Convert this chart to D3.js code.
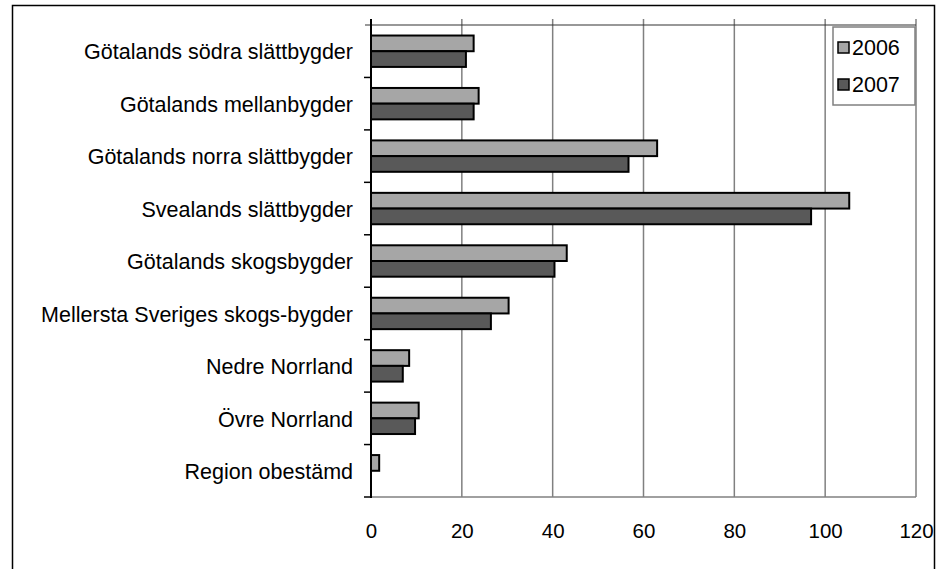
<!DOCTYPE html>
<html><head><meta charset="utf-8">
<script src="https://cdn.jsdelivr.net/npm/d3@7"></script>
<style>body{margin:0;background:#fff}svg{display:block}text{font-family:"Liberation Sans",Arial,sans-serif}</style>
</head><body>
<script>
const categories = ["Götalands södra slättbygder","Götalands mellanbygder","Götalands norra slättbygder","Svealands slättbygder","Götalands skogsbygder","Mellersta Sveriges skogs-bygder","Nedre Norrland","Övre Norrland","Region obestämd"];
const seriesNames = ["2006","2007"];
const values2006 = [22.6, 23.7, 63.0, 105.3, 43.1, 30.3, 8.4, 10.5, 1.8];
const values2007 = [20.9, 22.6, 56.7, 96.9, 40.4, 26.4, 7.0, 9.7, 0];
const xTicks = [0,20,40,60,80,100,120];
const colors = ["#a6a6a6","#595959"];

const W=940,H=569;
const svg=d3.select("body").append("svg").attr("width",W).attr("height",H);
const m={left:371,right:916,top:25,bottom:497};
const x=d3.scaleLinear().domain([0,120]).range([m.left,m.right]);
const y=d3.scaleBand().domain(categories).range([m.top,m.bottom]).paddingInner(0).paddingOuter(0);
const inner=d3.scaleBand().domain(seriesNames).range([0,y.bandwidth()]).paddingInner(0).paddingOuter(0.67);
const fs=21.5;

// outer border
svg.append("rect").attr("x",12.5).attr("y",5.5).attr("width",922).attr("height",600).attr("fill","none").attr("stroke","#000").attr("stroke-width",1.5);

// gridlines
svg.append("g").selectAll("line").data(xTicks.slice(1)).join("line")
  .attr("x1",d=>x(d)).attr("x2",d=>x(d)).attr("y1",m.top-6).attr("y2",m.bottom)
  .attr("stroke","#808080").attr("stroke-width",1.5);
// bottom border
svg.append("line").attr("x1",m.left).attr("x2",m.right).attr("y1",m.bottom).attr("y2",m.bottom).attr("stroke","#808080").attr("stroke-width",1.5);
// top axis line
svg.append("line").attr("x1",m.left-6).attr("x2",m.right).attr("y1",m.top).attr("y2",m.top).attr("stroke","#333").attr("stroke-width",1.2);

// bars
const data=categories.map((c,i)=>({c,vals:[values2006[i],values2007[i]]}));
const g=svg.append("g");
data.forEach(d=>{
  d.vals.forEach((v,j)=>{
    if(!v) return;
    g.append("rect").attr("x",x(0)).attr("y",y(d.c)+inner(seriesNames[j]))
     .attr("width",x(v)-x(0)).attr("height",inner.bandwidth())
     .attr("fill",colors[j]).attr("stroke","#000").attr("stroke-width",2);
  });
});

// y axis
const yAxis=d3.axisLeft(y).tickSize(0).tickPadding(18);
const ya=svg.append("g").attr("transform",`translate(${m.left},0)`).call(yAxis);
ya.select(".domain").remove();
ya.selectAll("text").attr("font-size",fs).attr("dy","0.38em").attr("fill","#000").attr("font-family","Liberation Sans, Arial, sans-serif");
// y axis line + category ticks
svg.append("line").attr("x1",m.left).attr("x2",m.left).attr("y1",m.top-6).attr("y2",m.bottom+1).attr("stroke","#000").attr("stroke-width",2);
const bounds=d3.range(categories.length+1).map(i=>m.top+i*y.step());
svg.append("g").selectAll("line").data(bounds.slice(1)).join("line")
  .attr("x1",m.left-7).attr("x2",m.left).attr("y1",d=>d).attr("y2",d=>d).attr("stroke","#000").attr("stroke-width",1.5);

// x axis labels
const xAxis=d3.axisBottom(x).tickValues(xTicks).tickSize(0).tickPadding(26);
const xa=svg.append("g").attr("transform",`translate(0,${m.bottom})`).call(xAxis);
xa.select(".domain").remove();
xa.selectAll("text").attr("font-size",20.5).attr("fill","#000").attr("font-family","Liberation Sans, Arial, sans-serif");

// legend
const lg=svg.append("g");
lg.append("rect").attr("x",833).attr("y",27).attr("width",82).attr("height",78).attr("fill","#fff").attr("stroke","#808080").attr("stroke-width",1.5);
seriesNames.forEach((s,i)=>{
  const cy=47+i*37;
  lg.append("rect").attr("x",838).attr("y",cy-5).attr("width",11).attr("height",11).attr("fill",colors[i]).attr("stroke","#000").attr("stroke-width",1.5);
  lg.append("text").attr("x",852).attr("y",cy).attr("dy","0.36em").attr("font-size",fs).text(s);
});
</script>
</body></html>
